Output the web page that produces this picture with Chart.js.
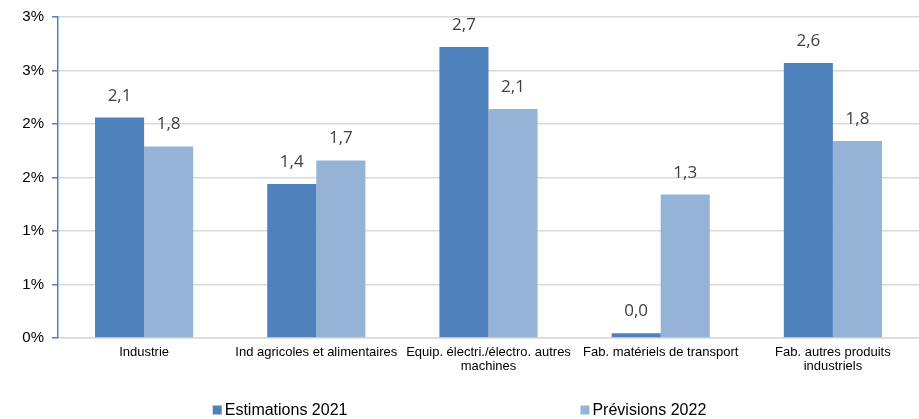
<!DOCTYPE html>
<html lang="fr">
<head>
<meta charset="utf-8">
<title>Estimations 2021 et prévisions 2022</title>
<script src="https://cdn.jsdelivr.net/npm/chart.js@4/dist/chart.umd.min.js"></script>
<style>
    html, body { margin: 0; padding: 0; background: #fff; }
    #wrap { position: relative; width: 919px; height: 419px; }
</style>
</head>
<body>
<div id="wrap"><canvas id="chart"></canvas></div>
<script>
// Secteurs (libellés sur deux lignes quand ils sont longs)
const categories = [
    ['Industrie'],
    ['Ind agricoles et alimentaires'],
    ['Equip. électri./électro. autres', 'machines'],
    ['Fab. matériels de transport'],
    ['Fab. autres produits', 'industriels']
];
const seriesNames = ['Estimations 2021', 'Prévisions 2022'];
const estimations2021 = [2.06, 1.44, 2.72, 0.045, 2.57];
const previsions2022 = [1.79, 1.66, 2.14, 1.34, 1.84];
const yTicks = [0, 0.5, 1, 1.5, 2, 2.5, 3];

const colors = ['#4f81bd', '#95b3d7'];

// Valeurs au-dessus des barres, format français
const valueLabels = {
    id: 'valueLabels',
    afterDatasetsDraw(chart) {
        const ctx = chart.ctx;
        ctx.save();
        ctx.font = '17px "Open Sans", sans-serif';
        ctx.fillStyle = '#404040';
        ctx.textAlign = 'center';
        ctx.textBaseline = 'alphabetic';
        chart.data.datasets.forEach((ds, i) => {
            chart.getDatasetMeta(i).data.forEach((bar, j) => {
                const txt = ds.data[j].toFixed(1).replace('.', ',');
                ctx.fillText(txt, bar.x, bar.y - 17);
            });
        });
        ctx.restore();
    }
};

// Légende en bas, deux éléments bien espacés
const bottomLegend = {
    id: 'bottomLegend',
    afterDraw(chart) {
        const ctx = chart.ctx;
        const box = 9, gapText = 3, gapItems = 233;
        const y = 410;
        ctx.save();
        ctx.font = '16px "Liberation Sans", Arial, sans-serif';
        ctx.textBaseline = 'middle';
        const items = chart.data.datasets.map(ds => ({
            label: ds.label,
            color: ds.backgroundColor,
            w: box + gapText + ctx.measureText(ds.label).width
        }));
        const total = items.reduce((s, it) => s + it.w, 0) + gapItems * (items.length - 1);
        let x = (chart.width - total) / 2;
        items.forEach(it => {
            ctx.fillStyle = it.color;
            ctx.fillRect(x, y - box / 2, box, box);
            ctx.fillStyle = '#000';
            ctx.fillText(it.label, x + box + gapText, y + 1);
            x += it.w + gapItems;
        });
        ctx.restore();
    }
};

const ctx = document.getElementById('chart').getContext('2d');
const chart = new Chart(ctx, {
    type: 'bar',
    data: {
        labels: categories,
        datasets: [
            { label: seriesNames[0], data: estimations2021, backgroundColor: colors[0] },
            { label: seriesNames[1], data: previsions2022, backgroundColor: colors[1] }
        ]
    },
    options: {
        responsive: true,
        maintainAspectRatio: false,
        animation: false,
        layout: { padding: { top: 16, right: 0, bottom: 0, left: 0 } },
        datasets: {
            bar: { barPercentage: 1, categoryPercentage: 0.57 }
        },
        plugins: {
            legend: { display: false },
            tooltip: { enabled: false }
        },
        scales: {
            x: {
                grid: { display: false, drawTicks: false },
                border: { color: '#d9d9d9', width: 1.5 },
                ticks: {
                    color: '#000',
                    font: { family: '"Liberation Sans", Arial, sans-serif', size: 13, lineHeight: 1.1 },
                    padding: 7,
                    maxRotation: 0,
                    minRotation: 0,
                    autoSkip: false
                },
                afterFit(scale) { scale.height = 81; }
            },
            y: {
                min: 0,
                max: 3,
                afterBuildTicks(scale) { scale.ticks = yTicks.map(v => ({ value: v })); },
                grid: { color: '#d9d9d9', lineWidth: 1.5, tickColor: '#4f81bd', tickLength: 6 },
                border: { color: '#4f81bd', width: 1.5 },
                ticks: {
                    color: '#000',
                    padding: 8,
                    font: { family: '"Liberation Sans", Arial, sans-serif', size: 15 },
                    callback: v => Math.round(v) + '%'
                },
                afterFit(scale) { scale.width = 58; }
            }
        }
    },
    plugins: [valueLabels, bottomLegend]
});
</script>
</body>
</html>
